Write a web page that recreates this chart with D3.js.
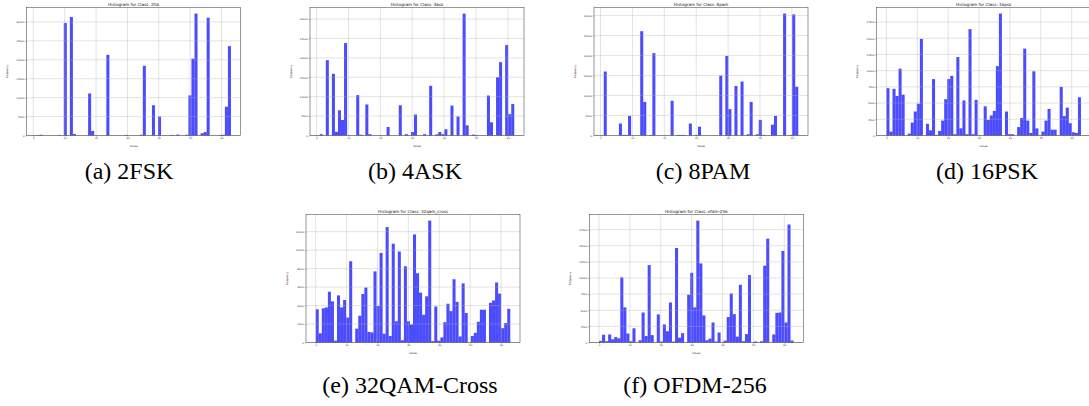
<!DOCTYPE html>
<html>
<head>
<meta charset="utf-8">
<script src="https://cdn.jsdelivr.net/npm/d3@7"></script>
<style>
  body { margin: 0; background: #fff; }
  svg { display: block; }
</style>
</head>
<body>
<script>
// class names (plot titles) and subfigure captions
var classNames = ["2fsk", "4ask", "8pam", "16psk", "32qam_cross", "ofdm-256"];
var captions = ["(a) 2FSK", "(b) 4ASK", "(c) 8PAM", "(d) 16PSK", "(e) 32QAM-Cross", "(f) OFDM-256"];

// tick values
var xTicks = [0, 10, 20, 30, 40, 50, 60];
var yTicks30k = [0, 5000, 10000, 15000, 20000, 25000, 30000];
var yTicks17k = [0, 2500, 5000, 7500, 10000, 12500, 15000, 17500];
var yTicks12k = [0, 2000, 4000, 6000, 8000, 10000, 12000];

// counts per symbol value 0..63
var counts2fsk = [
  0, 100, 200, 0, 0, 0, 0, 0, 150, 0, 29700, 0, 31300, 400, 0, 0,
  0, 0, 11100, 1200, 0, 0, 0, 0, 21300, 0, 0, 0, 0, 0, 150, 0,
  0, 0, 200, 18400, 0, 0, 8000, 0, 5000, 0, 0, 0, 150, 0, 250, 0,
  0, 200, 10600, 20300, 32200, 0, 600, 900, 31100, 0, 0, 0, 150, 200, 7600, 23600];
var counts4ask = [
  0, 350, 0, 19400, 0, 15900, 950, 6500, 4000, 23800, 0, 0, 0, 10400, 200, 0,
  8000, 350, 0, 0, 0, 0, 2200, 0, 0, 0, 7800, 0, 350, 0, 900, 5400,
  0, 0, 350, 0, 12800, 0, 300, 900, 350, 1600, 7700, 0, 4900, 0, 31400, 2600,
  0, 250, 100, 0, 0, 0, 10300, 3400, 0, 15000, 18900, 0, 23300, 5500, 8100, 0];
var counts8pam = [
  0, 16000, 0, 0, 0, 0, 3000, 150, 150, 4900, 0, 0, 0, 26100, 8400, 0,
  150, 20600, 0, 0, 0, 0, 8700, 0, 150, 150, 150, 0, 3000, 0, 150, 2200,
  0, 0, 0, 0, 0, 0, 15000, 0, 19900, 6600, 12400, 0, 13500, 0, 300, 8400,
  0, 300, 3900, 150, 0, 0, 2700, 4900, 0, 0, 30500, 0, 150, 30300, 12200, 0];
var counts16psk = [
  7300, 600, 7200, 6100, 10300, 6300, 0, 300, 2000, 3700, 4900, 14900, 0, 1800, 800, 8700,
  100, 700, 2300, 5600, 8700, 9200, 200, 12100, 1100, 5400, 200, 16400, 200, 5500, 0, 0,
  4500, 2400, 3100, 3800, 10700, 18800, 0, 3700, 200, 200, 0, 1300, 2700, 13400, 2300, 400,
  9900, 1100, 0, 600, 2300, 4100, 900, 900, 0, 7500, 3000, 4300, 1900, 500, 400, 5900];
var counts32qam = [
  3600, 1000, 3700, 3800, 5500, 4450, 200, 5100, 3800, 4600, 2700, 8800, 0, 1500, 2900, 5250,
  5950, 1150, 1100, 7700, 3950, 9700, 950, 12500, 700, 10700, 2300, 9850, 250, 8250, 2300, 1950,
  11700, 7500, 5400, 3000, 5000, 13200, 150, 3900, 200, 550, 2200, 4200, 3400, 6850, 4400, 650,
  6400, 3200, 0, 700, 1050, 2250, 3550, 3550, 0, 4300, 4550, 6500, 5300, 1550, 2100, 3650];
var countsOfdm = [
  250, 1200, 200, 1250, 500, 850, 650, 10100, 5450, 1400, 200, 2200, 0, 350, 4650, 1000,
  12000, 1150, 0, 4350, 150, 2800, 1750, 6200, 150, 14650, 750, 1450, 0, 7400, 10800, 5450,
  18900, 12250, 4200, 350, 600, 3100, 150, 1550, 0, 300, 3950, 7600, 4400, 900, 8950, 200,
  1300, 10450, 0, 150, 0, 200, 11900, 16100, 0, 1250, 4600, 4650, 14200, 3100, 18300, 300];

var allCounts = [counts2fsk, counts4ask, counts8pam, counts16psk, counts32qam, countsOfdm];
var allYTicks = [yTicks30k, yTicks30k, yTicks30k, yTicks17k, yTicks12k, yTicks17k];

// where each axes box sits on the page, and the caption centre
var panels = [
  {left: 26.7,  top: 7.5,   capX: 129},
  {left: 310,   top: 7.5,   capX: 415},
  {left: 594,   top: 7.5,   capX: 703},
  {left: 876.7, top: 7.5,   capX: 987},
  {left: 306,   top: 214.5, capX: 410},
  {left: 589.3, top: 214.5, capX: 695}
];
var axW = 214, axH = 128;

var svg = d3.select("body").append("svg")
    .attr("width", 1089)
    .attr("height", 406)
    .style("background", "#fff");

// 64 bins between min and max value, like plt.hist(..., bins=64)
function makeBins(counts) {
  var vals = d3.range(counts.length).filter(function(v){ return counts[v] > 0; });
  var lo = d3.min(vals), hi = d3.max(vals), w = (hi - lo) / 64;
  var bins = d3.range(64).map(function(k){
    return {x0: lo + k * w, x1: lo + (k + 1) * w, n: 0};
  });
  vals.forEach(function(v){
    var k = Math.min(63, Math.floor((v - lo) / w));
    bins[k].n += counts[v];
  });
  return {lo: lo, hi: hi, bins: bins};
}

panels.forEach(function(p, i){
  var h = makeBins(allCounts[i]);
  var pad = (h.hi - h.lo) * 0.05;
  var yMax = d3.max(h.bins, function(d){ return d.n; }) * 1.05;

  var x = d3.scaleLinear().domain([h.lo - pad, h.hi + pad]).range([0, axW]);
  var y = d3.scaleLinear().domain([0, yMax]).range([axH, 0]);

  var g = svg.append("g")
      .attr("class", "panel")
      .attr("transform", "translate(" + p.left + "," + p.top + ")");

  // bars
  g.selectAll(".bar")
    .data(h.bins.filter(function(d){ return d.n > 0; }))
    .enter()
    .append("rect")
    .attr("class", "bar")
    .attr("x", function(d){ return x(d.x0); })
    .attr("width", function(d){ return x(d.x1) - x(d.x0); })
    .attr("y", function(d){ return y(d.n); })
    .attr("height", function(d){ return axH - y(d.n); })
    .style("fill", "blue")
    .style("fill-opacity", 0.7);

  // grid on top of the bars
  var grid = g.append("g").attr("class", "grid");
  grid.selectAll(".gx").data(xTicks).enter().append("line")
    .attr("x1", function(d){ return x(d); }).attr("x2", function(d){ return x(d); })
    .attr("y1", 0).attr("y2", axH);
  grid.selectAll(".gy").data(allYTicks[i]).enter().append("line")
    .attr("x1", 0).attr("x2", axW)
    .attr("y1", function(d){ return y(d); }).attr("y2", function(d){ return y(d); });
  grid.selectAll("line")
    .style("stroke", "#b0b0b0")
    .style("stroke-opacity", 0.7)
    .style("stroke-width", 0.5);

  // axes
  var xAxis = g.append("g")
      .attr("class", "axis")
      .attr("transform", "translate(0," + axH + ")")
      .call(d3.axisBottom(x).tickValues(xTicks).tickSize(1.2).tickPadding(1).tickFormat(d3.format("d")));
  var yAxis = g.append("g")
      .attr("class", "axis")
      .call(d3.axisLeft(y).tickValues(allYTicks[i]).tickSize(1.2).tickPadding(1).tickFormat(d3.format("d")));
  g.selectAll(".axis .domain").remove();
  g.selectAll(".axis line").style("stroke", "#333").style("stroke-width", 0.4);
  g.selectAll(".axis text")
    .style("font-family", "DejaVu Sans")
    .style("font-size", "2.5px")
    .style("fill", "#222");

  // frame
  g.append("rect")
    .attr("width", axW).attr("height", axH)
    .style("fill", "none")
    .style("stroke", "#333")
    .style("stroke-width", 0.5);

  g.append("text")
    .attr("x", axW / 2).attr("y", -1.6)
    .attr("text-anchor", "middle")
    .style("font-family", "DejaVu Sans")
    .style("font-size", "4.1px")
    .style("fill", "#111")
    .text("Histogram for Class: " + classNames[i]);

  g.append("text")
    .attr("x", axW / 2).attr("y", axH + 11.2)
    .attr("text-anchor", "middle")
    .style("font-family", "DejaVu Sans")
    .style("font-size", "2.5px")
    .style("fill", "#222")
    .text("Values");

  g.append("text")
    .attr("transform", "translate(-18.5," + (axH / 2) + ") rotate(-90)")
    .attr("text-anchor", "middle")
    .style("font-family", "DejaVu Sans")
    .style("font-size", "2.6px")
    .style("fill", "#222")
    .text("Frequency");

  // subfigure caption
  svg.append("text")
    .attr("class", "caption")
    .attr("x", p.capX)
    .attr("y", p.top + axH + (i < 4 ? 43 : 50.5))
    .attr("text-anchor", "middle")
    .style("font-family", "Liberation Serif")
    .style("font-size", "24px")
    .style("fill", "#000")
    .text(captions[i]);
});
</script>
</body>
</html>
